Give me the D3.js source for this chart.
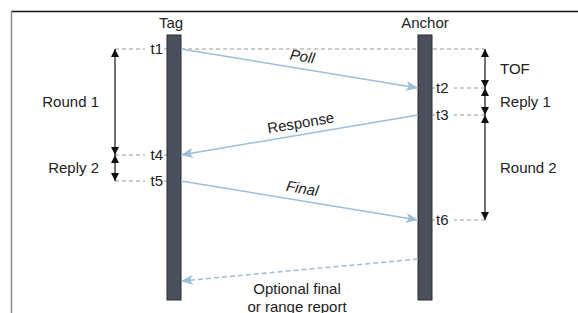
<!DOCTYPE html>
<html>
<head>
<meta charset="utf-8">
<script src="https://cdn.jsdelivr.net/npm/d3@7"></script>
<style>
  body { margin: 0; background: #fff; }
  text { font-family: "Liberation Sans", Arial, sans-serif; fill: #222; }
</style>
</head>
<body>
<div id="chart"></div>
<script>
// timestamps (arbitrary time units along the vertical axis)
var stampNames = ["t1", "t2", "t3", "t4", "t5", "t6"];
var stampTimes = [0, 39, 66, 106, 132, 171];
var stampSide  = ["tag", "anchor", "anchor", "tag", "tag", "anchor"];

// messages: from -> to, start time, end time
var msgNames = ["Poll", "Response", "Final", "Optional final|or range report"];
var msgFrom  = ["tag", "anchor", "tag", "anchor"];
var msgStart = [0, 66, 132, 210];
var msgEnd   = [39, 106, 171, 232];

// measured intervals
var intNames = ["Round 1", "Reply 2", "TOF", "Reply 1", "Round 2"];
var intSide  = ["tag", "tag", "anchor", "anchor", "anchor"];
var intFrom  = [0, 106, 0, 39, 66];
var intTo    = [106, 132, 39, 66, 171];

var width = 578, height = 313;
var fs = 15;

var svg = d3.select("#chart").append("svg")
    .attr("width", width)
    .attr("height", height);

// scales
var y = d3.scaleLinear().domain([0, 250]).range([49, 299]);
var x = d3.scaleOrdinal().domain(["tag", "anchor"]).range([174, 425]);
var barW = 14;
var intX = { tag: 115, anchor: 485 };

var blue = "#9cbfd6";

// markers
var defs = svg.append("defs");
defs.append("marker")
    .attr("id", "blueHead")
    .attr("viewBox", "0 0 12 10")
    .attr("refX", 12).attr("refY", 5)
    .attr("markerWidth", 12).attr("markerHeight", 10)
    .attr("markerUnits", "userSpaceOnUse")
    .attr("orient", "auto")
    .append("path")
    .attr("d", "M0,0 L12,5 L0,10 L3,5 Z")
    .attr("fill", blue);
defs.append("marker")
    .attr("id", "blackHead")
    .attr("viewBox", "0 0 8 8")
    .attr("refX", 8).attr("refY", 4)
    .attr("markerWidth", 8).attr("markerHeight", 8)
    .attr("markerUnits", "userSpaceOnUse")
    .attr("orient", "auto-start-reverse")
    .append("path")
    .attr("d", "M0,0 L8,4 L0,8 Z")
    .attr("fill", "#111");

// frame
svg.append("line").attr("x1", 11).attr("x2", width).attr("y1", 11.5).attr("y2", 11.5)
    .attr("stroke", "#111").attr("stroke-width", 1.5);
svg.append("line").attr("x1", 11.5).attr("x2", 11.5).attr("y1", 11).attr("y2", height)
    .attr("stroke", "#888").attr("stroke-width", 1.5);

// dashed guide lines for each timestamp
stampNames.forEach(function(name, i){
    var side = stampSide[i];
    var yy = y(stampTimes[i]);
    var g = svg.append("g");
    if (side == "tag") {
        g.append("line").attr("x1", intX.tag).attr("x2", x("tag") - barW / 2)
            .attr("y1", yy).attr("y2", yy);
        if (i == 0) {
            // t1 line crosses to the anchor side
            g.append("line").attr("x1", x("tag") + barW / 2).attr("x2", intX.anchor)
                .attr("y1", yy).attr("y2", yy);
        }
    } else {
        g.append("line").attr("x1", x("anchor") + barW / 2).attr("x2", intX.anchor)
            .attr("y1", yy).attr("y2", yy);
    }
    g.selectAll("line").attr("stroke", "#999").attr("stroke-width", 1)
        .attr("stroke-dasharray", "4,3");
});

// lifelines
["tag", "anchor"].forEach(function(side){
    svg.append("rect")
        .attr("x", x(side) - barW / 2)
        .attr("y", 35)
        .attr("width", barW)
        .attr("height", 265)
        .attr("fill", "#4b505c")
        .attr("stroke", "#2a2d33")
        .attr("stroke-width", 1);
    svg.append("text")
        .attr("x", side == "tag" ? x(side) - 3 : x(side))
        .attr("y", 28)
        .attr("text-anchor", "middle")
        .attr("font-size", fs)
        .text(side == "tag" ? "Tag" : "Anchor");
});

// timestamp labels
stampNames.forEach(function(name, i){
    var side = stampSide[i];
    var yy = y(stampTimes[i]);
    var tx = side == "tag" ? x("tag") - barW / 2 - 4 : x("anchor") + barW / 2 + 4;
    svg.append("rect")
        .attr("x", side == "tag" ? tx - 18 : tx - 1)
        .attr("y", yy - 8).attr("width", 19).attr("height", 16)
        .attr("fill", "#fff");
    svg.append("text")
        .attr("x", tx)
        .attr("y", yy + 5)
        .attr("text-anchor", side == "tag" ? "end" : "start")
        .attr("font-size", fs)
        .text(name);
});

// messages
msgNames.forEach(function(name, i){
    var from = msgFrom[i], to = from == "tag" ? "anchor" : "tag";
    var x1 = from == "tag" ? x(from) + barW / 2 : x(from) - barW / 2;
    var x2 = to == "tag" ? x(to) + barW / 2 : x(to) - barW / 2;
    var y1 = y(msgStart[i]), y2 = y(msgEnd[i]);
    var dashed = i == 3;
    svg.append("line")
        .attr("x1", x1).attr("y1", y1).attr("x2", x2).attr("y2", y2)
        .attr("stroke", blue).attr("stroke-width", 1.5)
        .attr("stroke-dasharray", dashed ? "5,3" : null)
        .attr("marker-end", "url(#blueHead)");

    var mx = (x1 + x2) / 2, my = (y1 + y2) / 2;
    if (dashed) {
        var lines = name.split("|");
        lines.forEach(function(l, k){
            svg.append("text")
                .attr("x", 297).attr("y", my + 24 + k * 18)
                .attr("text-anchor", "middle")
                .attr("font-size", fs)
                .text(l);
        });
    } else {
        var ang = Math.atan2(y2 - y1, x2 - x1) * 180 / Math.PI;
        if (ang > 90 || ang < -90) ang = ang - 180 * Math.sign(ang);
        svg.append("text")
            .attr("transform", "translate(" + (mx + 2) + "," + (my - 7) + ") rotate(" + ang + ")")
            .attr("text-anchor", "middle")
            .attr("font-size", fs)
            .attr("font-style", name == "Response" ? "normal" : "italic")
            .text(name);
    }
});

// interval arrows
intNames.forEach(function(name, i){
    var side = intSide[i];
    var xx = intX[side];
    var y1 = y(intFrom[i]), y2 = y(intTo[i]);
    svg.append("line")
        .attr("x1", xx).attr("x2", xx)
        .attr("y1", y1).attr("y2", y2)
        .attr("stroke", "#111").attr("stroke-width", 1.2)
        .attr("marker-start", "url(#blackHead)")
        .attr("marker-end", "url(#blackHead)");
    svg.append("text")
        .attr("x", side == "tag" ? 99 : 500)
        .attr("y", (y1 + y2) / 2 + 5)
        .attr("text-anchor", side == "tag" ? "end" : "start")
        .attr("font-size", fs)
        .text(name);
});
</script>
</body>
</html>
